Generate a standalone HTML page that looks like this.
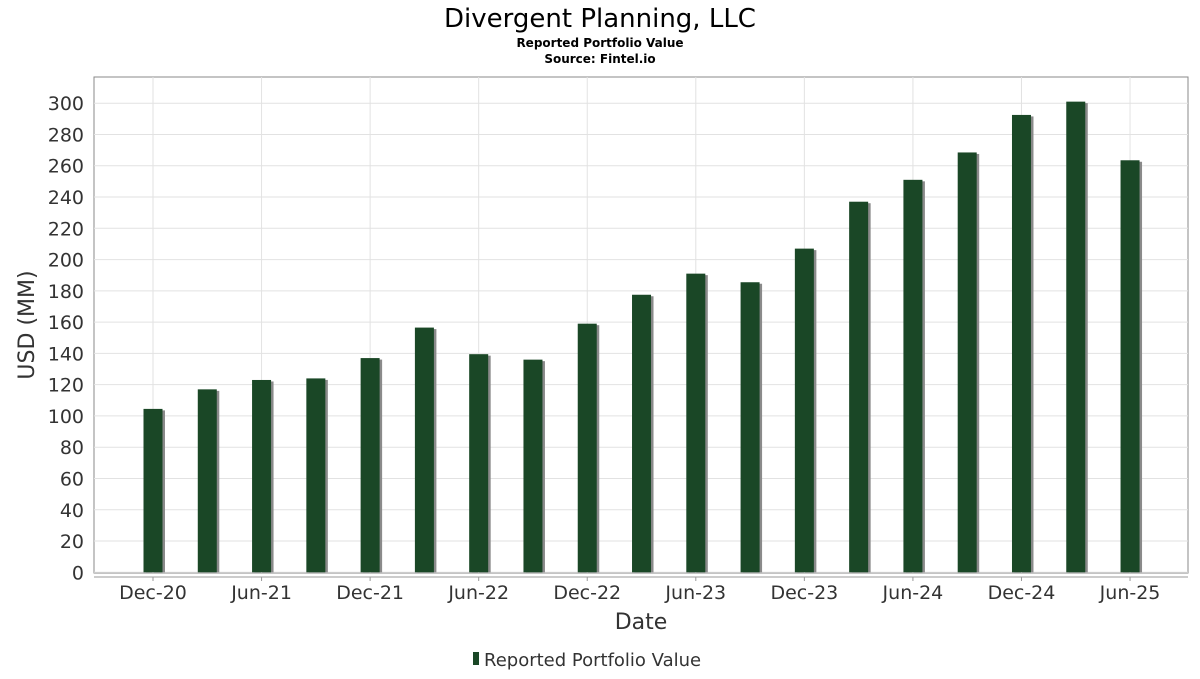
<!DOCTYPE html>
<html><head><meta charset="utf-8"><style>
body{margin:0;background:#fff;width:1200px;height:675px;overflow:hidden;font-family:"DejaVu Sans","Liberation Sans",sans-serif}
</style></head><body>
<svg width="1200" height="675" xmlns="http://www.w3.org/2000/svg">
<text x="600" y="27" text-anchor="middle" font-size="26" fill="#000">Divergent Planning, LLC</text>
<text x="600" y="47" text-anchor="middle" font-size="12" font-weight="bold" fill="#000">Reported Portfolio Value</text>
<text x="600" y="63" text-anchor="middle" font-size="12" font-weight="bold" fill="#000">Source: Fintel.io</text>
<rect x="94" y="77" width="1094" height="496" fill="#fff" stroke="#888"/>
<g id="grid"></g>
<g id="bars"></g>
<line x1="94" y1="577" x2="1188" y2="577" stroke="#999"/>
<g id="xt"></g><g id="yt"></g>
<text x="641" y="629" text-anchor="middle" font-size="22" fill="#333">Date</text>
<text transform="translate(34,325) rotate(-90)" text-anchor="middle" font-size="22" fill="#333">USD (MM)</text>
<g>
<rect x="473" y="652" width="6" height="13" fill="#1a4726"/>
<text x="484" y="666" font-size="18" fill="#333">Reported Portfolio Value</text>
</g>
</svg>
<script>
const categories=["Dec-20","Mar-21","Jun-21","Sep-21","Dec-21","Mar-22","Jun-22","Sep-22","Dec-22","Mar-23","Jun-23","Sep-23","Dec-23","Mar-24","Jun-24","Sep-24","Dec-24","Mar-25","Jun-25"];
const values=[104.5,117,123,124,137,156.5,139.5,136,159,177.5,191,185.5,207,237,251,268.5,292.5,301,263.5];
const yTicks=[0,20,40,60,80,100,120,140,160,180,200,220,240,260,280,300];
const NS="http://www.w3.org/2000/svg";
const x0=153,step=54.28,yb=572.3,ypx=(572.3-103.2)/300;
const X=i=>x0+i*step, Y=v=>yb-v*ypx;
const grid=document.getElementById('grid'),bars=document.getElementById('bars'),xt=document.getElementById('xt'),yt=document.getElementById('yt');
function mk(tag,attrs,parent){const e=document.createElementNS(NS,tag);for(const k in attrs)e.setAttribute(k,attrs[k]);parent.appendChild(e);return e;}
yTicks.forEach(t=>{
 const l=mk('line',{x1:94,x2:1188,y1:Y(t),y2:Y(t),stroke:'#e2e2e2'},grid);
 
 
 const tx=mk('text',{x:84,y:Y(t)+7,'text-anchor':'end','font-size':19,fill:'#333'},yt);
 tx.textContent=t;
 
 
});
categories.forEach((c,i)=>{
 if(i%2===0){
  const g=mk('line',{x1:X(i),x2:X(i),y1:77,y2:573,stroke:'#e2e2e2'},grid);
  
  
  mk('line',{x1:X(i),x2:X(i),y1:577,y2:581,stroke:'#999'},xt);
  const tx=mk('text',{x:X(i),y:599,'text-anchor':'middle','font-size':19,fill:'#333'},xt);
  tx.textContent=c;
  
  
 }
 const v=values[i];
 const s=mk('rect',{x:X(i)-7,y:Y(v)+1.5,width:19,height:yb-Y(v)-1.5,fill:'#8a8a8a'},bars);
 
 
 const b=mk('rect',{x:X(i)-9.5,y:Y(v),width:19,height:yb-Y(v),fill:'#1a4726'},bars);
 
 
});
</script>
</body></html>
